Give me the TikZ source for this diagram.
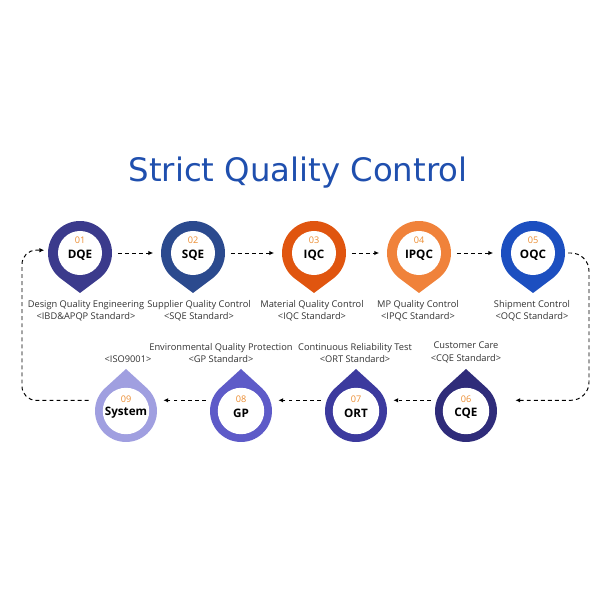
\documentclass[tikz,border=0pt]{standalone}
\usepackage{fontspec}
\setmainfont{Open Sans}
\newfontfamily\titlefont{DejaVu Sans}
\usepackage{tikz}
\usetikzlibrary{arrows.meta}

\definecolor{cTitle}{RGB}{31,79,174}
\definecolor{cNum}{RGB}{236,140,48}
\definecolor{cText}{RGB}{50,50,50}
\definecolor{cDQE}{RGB}{59,58,140}
\definecolor{cSQE}{RGB}{43,74,142}
\definecolor{cIQC}{RGB}{224,85,15}
\definecolor{cIPQC}{RGB}{240,130,58}
\definecolor{cOQC}{RGB}{28,79,192}
\definecolor{cCQE}{RGB}{47,44,122}
\definecolor{cORT}{RGB}{60,58,158}
\definecolor{cGP}{RGB}{94,91,200}
\definecolor{cSystem}{RGB}{160,159,224}

\tikzset{
  ring/.style={circle, minimum size=1.58cm, inner sep=0pt},
  disc/.style={circle, fill=white, inner sep=0pt},
  numtext/.style={font=\fontsize{6.5}{7}\selectfont, text=cNum},
  nametext/.style={font=\fontsize{8.3}{9}\selectfont\bfseries},
  desc/.style={align=center, font=\fontsize{6.6}{9}\selectfont, text=cText},
  flow/.style={-{Latex[length=3.4pt,width=3.2pt]}, line width=0.7pt,
    dash pattern=on 2.8pt off 2.2pt, shorten <=0.15cm, shorten >=0.2cm},
}

\begin{document}
\begin{tikzpicture}[x=0.025cm, y=0.025cm]
  \useasboundingbox (0,0) rectangle (600,600);
  \node[font=\titlefont\fontsize{23}{27}\selectfont, text=cTitle, anchor=base] (title) at (298,418) {Strict Quality Control};

  % upper row, pins point down
  \foreach \x/\n/\k/\c/\lx/\la/\lb in {80/DQE/01/cDQE/86/Design Quality Engineering/<IBD\&APQP Standard>,
      193/SQE/02/cSQE/199/Supplier Quality Control/<SQE Standard>,
      314/IQC/03/cIQC/312/Material Quality Control/<IQC Standard>,
      419/IPQC/04/cIPQC/418/MP Quality Control/<IPQC Standard>,
      533/OQC/05/cOQC/532/Shipment Control/<OQC Standard>} {
    \fill[\c] (\x,307) -- ([shift={(-53.13:32)}]\x,347) arc[start angle=-53.13, end angle=233.13, radius=32] -- cycle;
    \node[ring] (\n) at (\x,347) {};
    \node[disc, minimum size=1.1cm] at (\n) {};
    \node[numtext] at (\x,360) {\k};
    \node[nametext] at (\x,345) {\n};
    \node[desc, anchor=north] at (\lx,305) {\la\\\lb};
  }

  % lower row, pins point up
  \foreach \x/\n/\k/\c in {126/System/09/cSystem, 241/GP/08/cGP, 356/ORT/07/cORT, 466/CQE/06/cCQE} {
    \fill[\c] (\x,231) -- ([shift={(132.43:31)}]\x,189) arc[start angle=132.43, end angle=407.57, radius=31] -- cycle;
    \node[ring, minimum size=1.55cm] (\n) at (\x,189) {};
    \node[disc, minimum size=1.16cm] at (\n) {};
    \node[numtext] at (\x,201) {\k};
    \node[nametext] at (\x,187) {\n};
  }
  \node[desc, anchor=south] (sysdesc) at (128,232) {<ISO9001>};
  \node[desc, anchor=south] (gpdesc) at (221,232) {Environmental Quality Protection\\<GP Standard>};
  \node[desc, anchor=south] (ortdesc) at (355,232) {Continuous Reliability Test\\<ORT Standard>};
  \node[desc, anchor=south] (cqedesc) at (466,232) {Customer Care\\<CQE Standard>};

  % connectors
  \draw[flow] (DQE) -- (SQE);
  \draw[flow] (SQE) -- (IQC);
  \draw[flow] (IQC) -- (IPQC);
  \draw[flow] (IPQC) -- (OQC);
  \draw[flow] (CQE.160) -- (ORT.20);
  \draw[flow] (ORT.160) -- (GP.20);
  \draw[flow] (GP.160) -- (System.20);
  \draw[flow, rounded corners=0.45cm, shorten <=0.08cm, shorten >=0.5cm] (OQC.east) -| (589,300) |- (CQE.20);
  \draw[flow, rounded corners=0.35cm, shorten <=0.2cm, shorten >=0.1cm] (System.160) -| (22,300) |- (DQE.175);
\end{tikzpicture}
\end{document}
